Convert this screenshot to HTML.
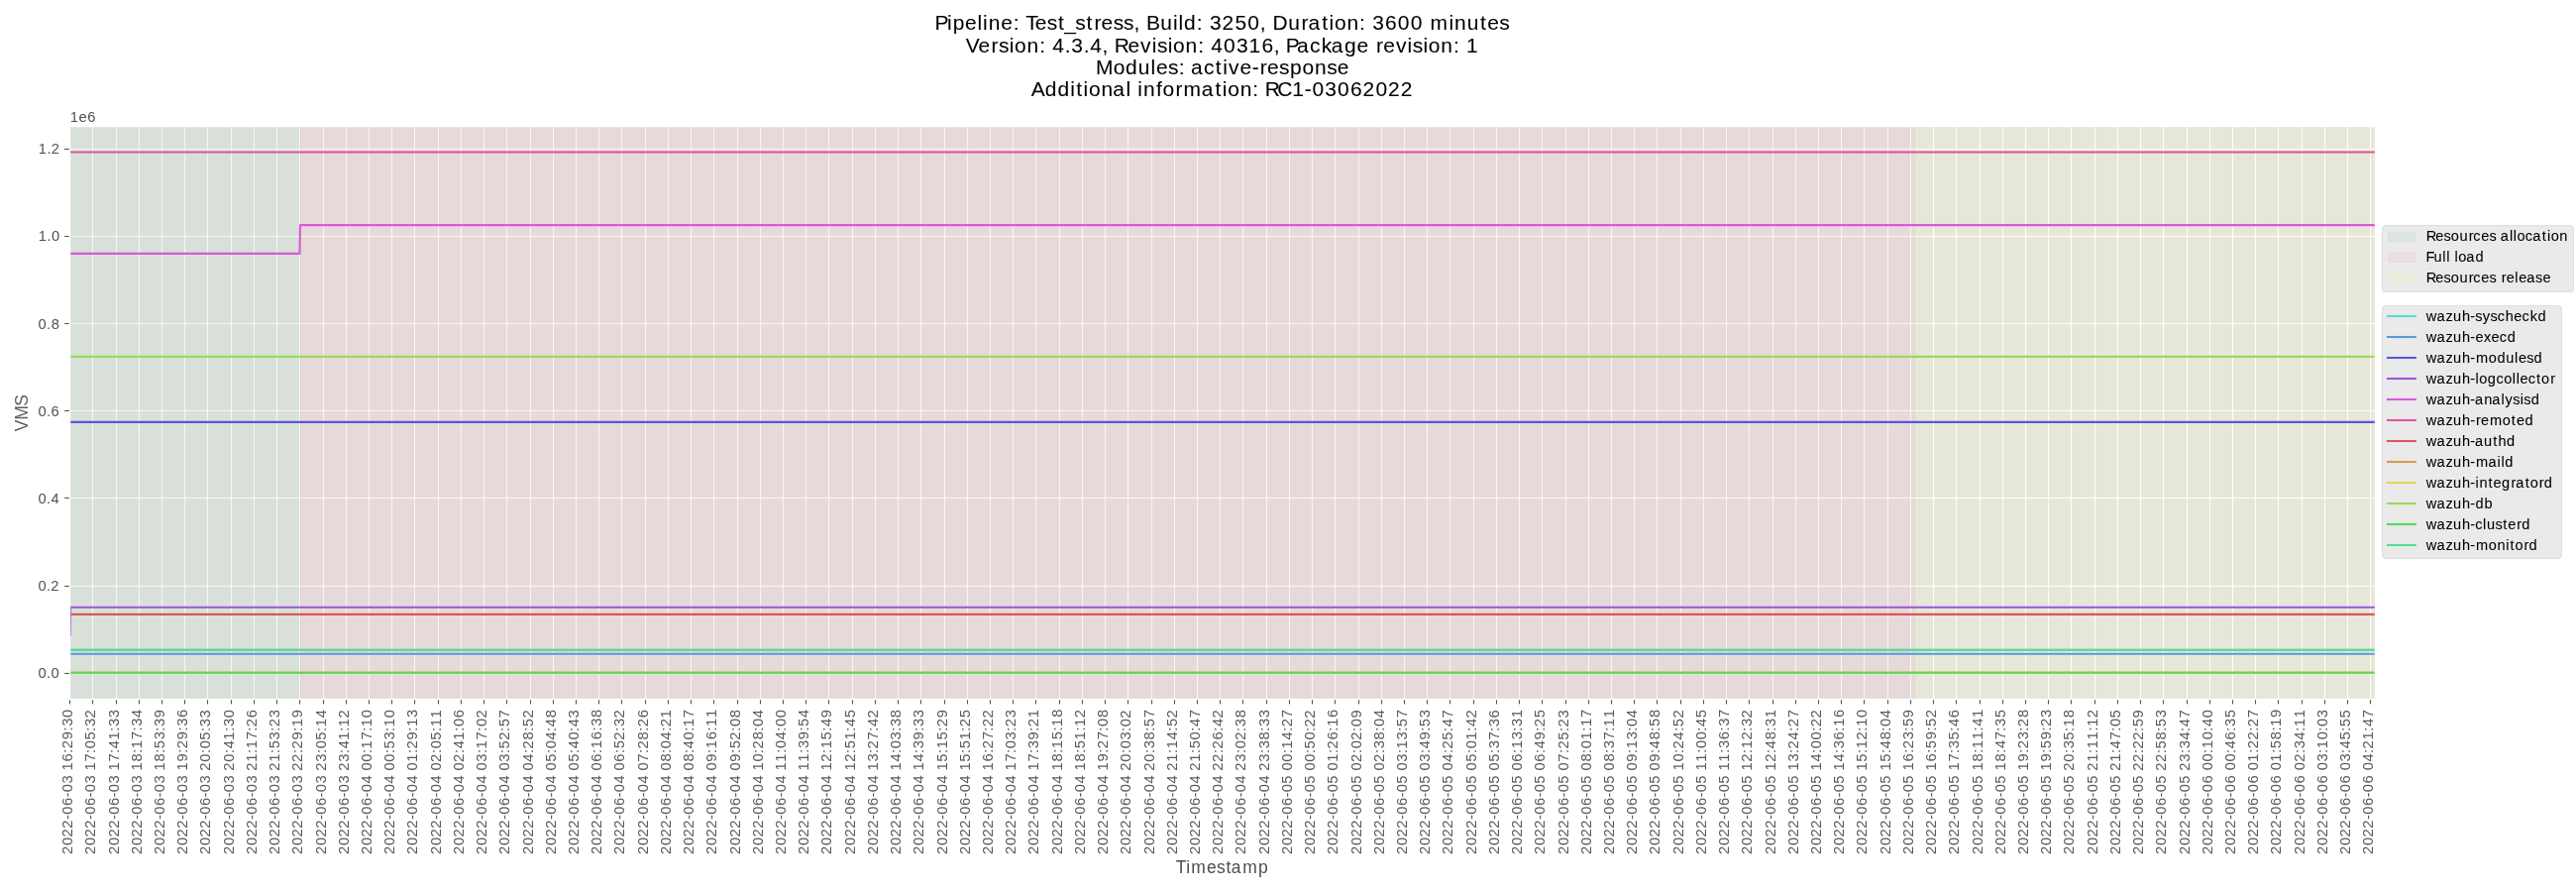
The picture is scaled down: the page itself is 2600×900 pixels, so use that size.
<!DOCTYPE html>
<html><head><meta charset="utf-8"><title>VMS - Test_stress</title>
<style>html,body{margin:0;padding:0;background:#fff;}body{width:2600px;height:900px;overflow:hidden;font-family:"Liberation Sans",sans-serif;}svg{display:block;will-change:transform;}</style>
</head><body>
<svg width="2600" height="900" viewBox="0 0 2600 900"><rect x="0" y="0" width="2600" height="900" fill="#fff"/>
<rect x="70.17" y="127.3" width="2327.03" height="577.71" fill="#e5e5e5"/>
<g fill="#fff"><rect x="69.94" y="127.3" width="1.11" height="577.71"/><rect x="92.94" y="127.3" width="1.11" height="577.71"/><rect x="116.94" y="127.3" width="1.11" height="577.71"/><rect x="139.94" y="127.3" width="1.11" height="577.71"/><rect x="162.94" y="127.3" width="1.11" height="577.71"/><rect x="185.94" y="127.3" width="1.11" height="577.71"/><rect x="208.94" y="127.3" width="1.11" height="577.71"/><rect x="232.94" y="127.3" width="1.11" height="577.71"/><rect x="255.94" y="127.3" width="1.11" height="577.71"/><rect x="278.94" y="127.3" width="1.11" height="577.71"/><rect x="301.94" y="127.3" width="1.11" height="577.71"/><rect x="325.94" y="127.3" width="1.11" height="577.71"/><rect x="348.94" y="127.3" width="1.11" height="577.71"/><rect x="371.94" y="127.3" width="1.11" height="577.71"/><rect x="394.94" y="127.3" width="1.11" height="577.71"/><rect x="417.94" y="127.3" width="1.11" height="577.71"/><rect x="441.94" y="127.3" width="1.11" height="577.71"/><rect x="464.94" y="127.3" width="1.11" height="577.71"/><rect x="487.94" y="127.3" width="1.11" height="577.71"/><rect x="510.94" y="127.3" width="1.11" height="577.71"/><rect x="534.95" y="127.3" width="1.11" height="577.71"/><rect x="557.95" y="127.3" width="1.11" height="577.71"/><rect x="580.95" y="127.3" width="1.11" height="577.71"/><rect x="603.95" y="127.3" width="1.11" height="577.71"/><rect x="626.95" y="127.3" width="1.11" height="577.71"/><rect x="650.95" y="127.3" width="1.11" height="577.71"/><rect x="673.95" y="127.3" width="1.11" height="577.71"/><rect x="696.95" y="127.3" width="1.11" height="577.71"/><rect x="719.95" y="127.3" width="1.11" height="577.71"/><rect x="743.95" y="127.3" width="1.11" height="577.71"/><rect x="766.95" y="127.3" width="1.11" height="577.71"/><rect x="789.95" y="127.3" width="1.11" height="577.71"/><rect x="812.95" y="127.3" width="1.11" height="577.71"/><rect x="835.95" y="127.3" width="1.11" height="577.71"/><rect x="859.95" y="127.3" width="1.11" height="577.71"/><rect x="882.95" y="127.3" width="1.11" height="577.71"/><rect x="905.95" y="127.3" width="1.11" height="577.71"/><rect x="928.95" y="127.3" width="1.11" height="577.71"/><rect x="952.95" y="127.3" width="1.11" height="577.71"/><rect x="975.95" y="127.3" width="1.11" height="577.71"/><rect x="998.95" y="127.3" width="1.11" height="577.71"/><rect x="1021.95" y="127.3" width="1.11" height="577.71"/><rect x="1044.94" y="127.3" width="1.11" height="577.71"/><rect x="1068.94" y="127.3" width="1.11" height="577.71"/><rect x="1091.94" y="127.3" width="1.11" height="577.71"/><rect x="1114.94" y="127.3" width="1.11" height="577.71"/><rect x="1137.94" y="127.3" width="1.11" height="577.71"/><rect x="1161.94" y="127.3" width="1.11" height="577.71"/><rect x="1184.94" y="127.3" width="1.11" height="577.71"/><rect x="1207.94" y="127.3" width="1.11" height="577.71"/><rect x="1230.94" y="127.3" width="1.11" height="577.71"/><rect x="1253.94" y="127.3" width="1.11" height="577.71"/><rect x="1277.94" y="127.3" width="1.11" height="577.71"/><rect x="1300.94" y="127.3" width="1.11" height="577.71"/><rect x="1323.94" y="127.3" width="1.11" height="577.71"/><rect x="1346.94" y="127.3" width="1.11" height="577.71"/><rect x="1370.94" y="127.3" width="1.11" height="577.71"/><rect x="1393.94" y="127.3" width="1.11" height="577.71"/><rect x="1416.94" y="127.3" width="1.11" height="577.71"/><rect x="1439.94" y="127.3" width="1.11" height="577.71"/><rect x="1462.94" y="127.3" width="1.11" height="577.71"/><rect x="1486.94" y="127.3" width="1.11" height="577.71"/><rect x="1509.94" y="127.3" width="1.11" height="577.71"/><rect x="1532.94" y="127.3" width="1.11" height="577.71"/><rect x="1555.94" y="127.3" width="1.11" height="577.71"/><rect x="1579.94" y="127.3" width="1.11" height="577.71"/><rect x="1602.94" y="127.3" width="1.11" height="577.71"/><rect x="1625.94" y="127.3" width="1.11" height="577.71"/><rect x="1648.94" y="127.3" width="1.11" height="577.71"/><rect x="1671.94" y="127.3" width="1.11" height="577.71"/><rect x="1695.94" y="127.3" width="1.11" height="577.71"/><rect x="1718.94" y="127.3" width="1.11" height="577.71"/><rect x="1741.94" y="127.3" width="1.11" height="577.71"/><rect x="1764.94" y="127.3" width="1.11" height="577.71"/><rect x="1788.94" y="127.3" width="1.11" height="577.71"/><rect x="1811.94" y="127.3" width="1.11" height="577.71"/><rect x="1834.94" y="127.3" width="1.11" height="577.71"/><rect x="1857.94" y="127.3" width="1.11" height="577.71"/><rect x="1880.94" y="127.3" width="1.11" height="577.71"/><rect x="1904.94" y="127.3" width="1.11" height="577.71"/><rect x="1927.94" y="127.3" width="1.11" height="577.71"/><rect x="1950.94" y="127.3" width="1.11" height="577.71"/><rect x="1973.94" y="127.3" width="1.11" height="577.71"/><rect x="1997.94" y="127.3" width="1.11" height="577.71"/><rect x="2020.94" y="127.3" width="1.11" height="577.71"/><rect x="2043.94" y="127.3" width="1.11" height="577.71"/><rect x="2066.95" y="127.3" width="1.11" height="577.71"/><rect x="2089.95" y="127.3" width="1.11" height="577.71"/><rect x="2113.95" y="127.3" width="1.11" height="577.71"/><rect x="2136.95" y="127.3" width="1.11" height="577.71"/><rect x="2159.95" y="127.3" width="1.11" height="577.71"/><rect x="2182.95" y="127.3" width="1.11" height="577.71"/><rect x="2206.95" y="127.3" width="1.11" height="577.71"/><rect x="2229.95" y="127.3" width="1.11" height="577.71"/><rect x="2252.95" y="127.3" width="1.11" height="577.71"/><rect x="2275.95" y="127.3" width="1.11" height="577.71"/><rect x="2298.95" y="127.3" width="1.11" height="577.71"/><rect x="2322.95" y="127.3" width="1.11" height="577.71"/><rect x="2345.95" y="127.3" width="1.11" height="577.71"/><rect x="2368.95" y="127.3" width="1.11" height="577.71"/><rect x="2391.95" y="127.3" width="1.11" height="577.71"/><rect x="70.17" y="149.94" width="2327.03" height="1.11"/><rect x="70.17" y="237.94" width="2327.03" height="1.11"/><rect x="70.17" y="325.94" width="2327.03" height="1.11"/><rect x="70.17" y="413.94" width="2327.03" height="1.11"/><rect x="70.17" y="501.94" width="2327.03" height="1.11"/><rect x="70.17" y="590.95" width="2327.03" height="1.11"/><rect x="70.17" y="678.95" width="2327.03" height="1.11"/></g>
<rect x="70.17" y="127.3" width="233.33" height="577.71" fill="#008000" fill-opacity="0.05" stroke="#008000" stroke-opacity="0.05" stroke-width="0.69"/>
<rect x="303.5" y="127.3" width="1629" height="577.71" fill="#ff0000" fill-opacity="0.05" stroke="#ff0000" stroke-opacity="0.05" stroke-width="0.69"/>
<rect x="1932.5" y="127.3" width="464.7" height="577.71" fill="#ffff00" fill-opacity="0.05" stroke="#ffff00" stroke-opacity="0.05" stroke-width="0.69"/>
<defs><clipPath id="ax"><rect x="70.17" y="127.3" width="2327.03" height="577.71"/></clipPath></defs>
<g clip-path="url(#ax)" fill="none" stroke-width="2.08" stroke-linejoin="round"><path d="M68.17 655.9 L2399.2 655.9" stroke="#57dbdb"/><path d="M68.17 659.8 L2399.2 659.8" stroke="#5799db"/><path d="M68.17 425.9 L2399.2 425.9" stroke="#5757db"/><path d="M70.67 641.8 L71.17 612.8 L2399.2 612.8" stroke="#9957db"/><path d="M68.17 255.9 L302.44 255.9 L302.95 227.1 L2399.2 227.1" stroke="#db57db"/><path d="M68.17 153.56 L2399.2 153.56" stroke="#db5799"/><path d="M68.17 619.9 L2399.2 619.9" stroke="#db5757"/><path d="M68.17 678.75 L2399.2 678.75" stroke="#db9957"/><path d="M68.17 678.75 L2399.2 678.75" stroke="#dbdb57"/><path d="M68.17 359.9 L2399.2 359.9" stroke="#99db57"/><path d="M68.17 678.75 L2399.2 678.75" stroke="#57db57"/><path d="M68.17 655.9 L2399.2 655.9" stroke="#57db99"/></g>
<g fill="#555"><rect x="65.14" y="149.94" width="4.86" height="1.11"/><rect x="65.14" y="237.94" width="4.86" height="1.11"/><rect x="65.14" y="325.94" width="4.86" height="1.11"/><rect x="65.14" y="413.94" width="4.86" height="1.11"/><rect x="65.14" y="501.94" width="4.86" height="1.11"/><rect x="65.14" y="590.95" width="4.86" height="1.11"/><rect x="65.14" y="678.95" width="4.86" height="1.11"/><rect x="69.94" y="705.5" width="1.11" height="4.86"/><rect x="92.94" y="705.5" width="1.11" height="4.86"/><rect x="116.94" y="705.5" width="1.11" height="4.86"/><rect x="139.94" y="705.5" width="1.11" height="4.86"/><rect x="162.94" y="705.5" width="1.11" height="4.86"/><rect x="185.94" y="705.5" width="1.11" height="4.86"/><rect x="208.94" y="705.5" width="1.11" height="4.86"/><rect x="232.94" y="705.5" width="1.11" height="4.86"/><rect x="255.94" y="705.5" width="1.11" height="4.86"/><rect x="278.94" y="705.5" width="1.11" height="4.86"/><rect x="301.94" y="705.5" width="1.11" height="4.86"/><rect x="325.94" y="705.5" width="1.11" height="4.86"/><rect x="348.94" y="705.5" width="1.11" height="4.86"/><rect x="371.94" y="705.5" width="1.11" height="4.86"/><rect x="394.94" y="705.5" width="1.11" height="4.86"/><rect x="417.94" y="705.5" width="1.11" height="4.86"/><rect x="441.94" y="705.5" width="1.11" height="4.86"/><rect x="464.94" y="705.5" width="1.11" height="4.86"/><rect x="487.94" y="705.5" width="1.11" height="4.86"/><rect x="510.94" y="705.5" width="1.11" height="4.86"/><rect x="534.95" y="705.5" width="1.11" height="4.86"/><rect x="557.95" y="705.5" width="1.11" height="4.86"/><rect x="580.95" y="705.5" width="1.11" height="4.86"/><rect x="603.95" y="705.5" width="1.11" height="4.86"/><rect x="626.95" y="705.5" width="1.11" height="4.86"/><rect x="650.95" y="705.5" width="1.11" height="4.86"/><rect x="673.95" y="705.5" width="1.11" height="4.86"/><rect x="696.95" y="705.5" width="1.11" height="4.86"/><rect x="719.95" y="705.5" width="1.11" height="4.86"/><rect x="743.95" y="705.5" width="1.11" height="4.86"/><rect x="766.95" y="705.5" width="1.11" height="4.86"/><rect x="789.95" y="705.5" width="1.11" height="4.86"/><rect x="812.95" y="705.5" width="1.11" height="4.86"/><rect x="835.95" y="705.5" width="1.11" height="4.86"/><rect x="859.95" y="705.5" width="1.11" height="4.86"/><rect x="882.95" y="705.5" width="1.11" height="4.86"/><rect x="905.95" y="705.5" width="1.11" height="4.86"/><rect x="928.95" y="705.5" width="1.11" height="4.86"/><rect x="952.95" y="705.5" width="1.11" height="4.86"/><rect x="975.95" y="705.5" width="1.11" height="4.86"/><rect x="998.95" y="705.5" width="1.11" height="4.86"/><rect x="1021.95" y="705.5" width="1.11" height="4.86"/><rect x="1044.94" y="705.5" width="1.11" height="4.86"/><rect x="1068.94" y="705.5" width="1.11" height="4.86"/><rect x="1091.94" y="705.5" width="1.11" height="4.86"/><rect x="1114.94" y="705.5" width="1.11" height="4.86"/><rect x="1137.94" y="705.5" width="1.11" height="4.86"/><rect x="1161.94" y="705.5" width="1.11" height="4.86"/><rect x="1184.94" y="705.5" width="1.11" height="4.86"/><rect x="1207.94" y="705.5" width="1.11" height="4.86"/><rect x="1230.94" y="705.5" width="1.11" height="4.86"/><rect x="1253.94" y="705.5" width="1.11" height="4.86"/><rect x="1277.94" y="705.5" width="1.11" height="4.86"/><rect x="1300.94" y="705.5" width="1.11" height="4.86"/><rect x="1323.94" y="705.5" width="1.11" height="4.86"/><rect x="1346.94" y="705.5" width="1.11" height="4.86"/><rect x="1370.94" y="705.5" width="1.11" height="4.86"/><rect x="1393.94" y="705.5" width="1.11" height="4.86"/><rect x="1416.94" y="705.5" width="1.11" height="4.86"/><rect x="1439.94" y="705.5" width="1.11" height="4.86"/><rect x="1462.94" y="705.5" width="1.11" height="4.86"/><rect x="1486.94" y="705.5" width="1.11" height="4.86"/><rect x="1509.94" y="705.5" width="1.11" height="4.86"/><rect x="1532.94" y="705.5" width="1.11" height="4.86"/><rect x="1555.94" y="705.5" width="1.11" height="4.86"/><rect x="1579.94" y="705.5" width="1.11" height="4.86"/><rect x="1602.94" y="705.5" width="1.11" height="4.86"/><rect x="1625.94" y="705.5" width="1.11" height="4.86"/><rect x="1648.94" y="705.5" width="1.11" height="4.86"/><rect x="1671.94" y="705.5" width="1.11" height="4.86"/><rect x="1695.94" y="705.5" width="1.11" height="4.86"/><rect x="1718.94" y="705.5" width="1.11" height="4.86"/><rect x="1741.94" y="705.5" width="1.11" height="4.86"/><rect x="1764.94" y="705.5" width="1.11" height="4.86"/><rect x="1788.94" y="705.5" width="1.11" height="4.86"/><rect x="1811.94" y="705.5" width="1.11" height="4.86"/><rect x="1834.94" y="705.5" width="1.11" height="4.86"/><rect x="1857.94" y="705.5" width="1.11" height="4.86"/><rect x="1880.94" y="705.5" width="1.11" height="4.86"/><rect x="1904.94" y="705.5" width="1.11" height="4.86"/><rect x="1927.94" y="705.5" width="1.11" height="4.86"/><rect x="1950.94" y="705.5" width="1.11" height="4.86"/><rect x="1973.94" y="705.5" width="1.11" height="4.86"/><rect x="1997.94" y="705.5" width="1.11" height="4.86"/><rect x="2020.94" y="705.5" width="1.11" height="4.86"/><rect x="2043.94" y="705.5" width="1.11" height="4.86"/><rect x="2066.95" y="705.5" width="1.11" height="4.86"/><rect x="2089.95" y="705.5" width="1.11" height="4.86"/><rect x="2113.95" y="705.5" width="1.11" height="4.86"/><rect x="2136.95" y="705.5" width="1.11" height="4.86"/><rect x="2159.95" y="705.5" width="1.11" height="4.86"/><rect x="2182.95" y="705.5" width="1.11" height="4.86"/><rect x="2206.95" y="705.5" width="1.11" height="4.86"/><rect x="2229.95" y="705.5" width="1.11" height="4.86"/><rect x="2252.95" y="705.5" width="1.11" height="4.86"/><rect x="2275.95" y="705.5" width="1.11" height="4.86"/><rect x="2298.95" y="705.5" width="1.11" height="4.86"/><rect x="2322.95" y="705.5" width="1.11" height="4.86"/><rect x="2345.95" y="705.5" width="1.11" height="4.86"/><rect x="2368.95" y="705.5" width="1.11" height="4.86"/><rect x="2391.95" y="705.5" width="1.11" height="4.86"/></g>
<g fill="#fff">
<rect x="69.81" y="126.81" width="1.39" height="579.39"/>
<rect x="2396.81" y="126.81" width="1.39" height="579.39"/>
<rect x="69.81" y="126.81" width="2328.39" height="1.39"/>
<rect x="69.81" y="704.81" width="2328.39" height="1.39"/>
</g>
<rect x="2404.5" y="227.5" width="193" height="67" rx="2.78" ry="2.78" fill="#e5e5e5" fill-opacity="0.8" stroke="#ccc" stroke-opacity="0.8" stroke-width="0.69"/>
<rect x="2410.5" y="234.5" width="27.8" height="9" fill="#008000" fill-opacity="0.05" stroke="#008000" stroke-opacity="0.05" stroke-width="0.69"/>
<rect x="2410.5" y="254.5" width="27.8" height="10" fill="#ff0000" fill-opacity="0.05" stroke="#ff0000" stroke-opacity="0.05" stroke-width="0.69"/>
<rect x="2410.5" y="275.5" width="27.8" height="10" fill="#ffff00" fill-opacity="0.05" stroke="#ffff00" stroke-opacity="0.05" stroke-width="0.69"/>
<rect x="2404.5" y="308.5" width="181" height="255" rx="2.78" ry="2.78" fill="#e5e5e5" fill-opacity="0.8" stroke="#ccc" stroke-opacity="0.8" stroke-width="0.69"/>
<g fill="none" stroke-width="2.08" stroke-linecap="square"><path d="M2410 319 H2437.8" stroke="#57dbdb"/><path d="M2410 340 H2437.8" stroke="#5799db"/><path d="M2410 361 H2437.8" stroke="#5757db"/><path d="M2410 382 H2437.8" stroke="#9957db"/><path d="M2410 403 H2437.8" stroke="#db57db"/><path d="M2410 424 H2437.8" stroke="#db5799"/><path d="M2410 445 H2437.8" stroke="#db5757"/><path d="M2410 466 H2437.8" stroke="#db9957"/><path d="M2410 487 H2437.8" stroke="#dbdb57"/><path d="M2410 508 H2437.8" stroke="#99db57"/><path d="M2410 529 H2437.8" stroke="#57db57"/><path d="M2410 550 H2437.8" stroke="#57db99"/></g>
<g font-family="'Liberation Sans', sans-serif" fill="#000"><text x="0.09 9.03 17.59 26.34 34.99 40.16 48.98 57.49 62.66 71.45 79.88 84.52 93.48 102.27 106.72 115.66 124.52 129.2 137.91" y="0" font-size="14.72" transform="translate(73 862) rotate(-90)" fill="#5a5a5a">2022-06-03 16:29:30</text><text x="0.09 9.03 17.59 26.34 34.99 40.16 48.98 57.49 62.66 71.45 79.88 84.52 93.4 102.14 106.78 115.48 124.27 128.95 137.47" y="0" font-size="14.72" transform="translate(96 862) rotate(-90)" fill="#5a5a5a">2022-06-03 17:05:32</text><text x="0.09 9.03 17.59 26.34 34.99 40.16 48.98 57.49 62.66 71.45 79.88 84.52 93.4 102.14 106.83 115.52 124.39 129.07 137.82" y="0" font-size="14.72" transform="translate(120 862) rotate(-90)" fill="#5a5a5a">2022-06-03 17:41:33</text><text x="0.09 9.03 17.59 26.34 34.99 40.16 48.98 57.49 62.66 71.45 79.88 84.52 93.53 102.27 106.89 115.77 124.52 129.2 137.95" y="0" font-size="14.72" transform="translate(143 862) rotate(-90)" fill="#5a5a5a">2022-06-03 18:17:34</text><text x="0.09 9.03 17.59 26.34 34.99 40.16 48.98 57.49 62.66 71.45 79.88 84.52 93.53 102.27 106.86 115.7 124.39 129.07 137.78" y="0" font-size="14.72" transform="translate(166 862) rotate(-90)" fill="#5a5a5a">2022-06-03 18:53:39</text><text x="0.09 9.03 17.59 26.34 34.99 40.16 48.98 57.49 62.66 71.45 79.88 84.52 93.41 102.27 106.72 115.66 124.52 129.2 137.98" y="0" font-size="14.72" transform="translate(189 862) rotate(-90)" fill="#5a5a5a">2022-06-03 19:29:36</text><text x="0.09 9.03 17.59 26.34 34.99 40.16 48.98 57.49 62.66 71.45 79.88 84.34 93.28 102.02 106.66 115.36 124.14 128.82 137.57" y="0" font-size="14.72" transform="translate(212 862) rotate(-90)" fill="#5a5a5a">2022-06-03 20:05:33</text><text x="0.09 9.03 17.59 26.34 34.99 40.16 48.98 57.49 62.66 71.45 79.88 84.34 93.28 102.02 106.7 115.39 124.27 128.95 137.66" y="0" font-size="14.72" transform="translate(236 862) rotate(-90)" fill="#5a5a5a">2022-06-03 20:41:30</text><text x="0.09 9.03 17.59 26.34 34.99 40.16 48.98 57.49 62.66 71.45 79.88 84.34 93.27 102.14 106.77 115.65 124.39 128.84 137.86" y="0" font-size="14.72" transform="translate(259 862) rotate(-90)" fill="#5a5a5a">2022-06-03 21:17:26</text><text x="0.09 9.03 17.59 26.34 34.99 40.16 48.98 57.49 62.66 71.45 79.88 84.34 93.27 102.14 106.73 115.57 124.27 128.72 137.7" y="0" font-size="14.72" transform="translate(282 862) rotate(-90)" fill="#5a5a5a">2022-06-03 21:53:23</text><text x="0.09 9.03 17.59 26.34 34.99 40.16 48.98 57.49 62.66 71.45 79.88 84.34 93.09 102.02 106.47 115.41 124.27 128.89 137.78" y="0" font-size="14.72" transform="translate(305 862) rotate(-90)" fill="#5a5a5a">2022-06-03 22:29:19</text><text x="0.09 9.03 17.59 26.34 34.99 40.16 48.98 57.49 62.66 71.45 79.88 84.34 93.32 102.02 106.66 115.36 124.14 128.77 137.7" y="0" font-size="14.72" transform="translate(329 862) rotate(-90)" fill="#5a5a5a">2022-06-03 23:05:14</text><text x="0.09 9.03 17.59 26.34 34.99 40.16 48.98 57.49 62.66 71.45 79.88 84.34 93.32 102.02 106.7 115.39 124.27 128.89 137.59" y="0" font-size="14.72" transform="translate(352 862) rotate(-90)" fill="#5a5a5a">2022-06-03 23:41:12</text><text x="0.09 9.03 17.59 26.34 34.99 40.16 48.98 57.49 62.66 71.45 79.88 84.53 93.28 102.02 106.64 115.52 124.27 128.89 137.78" y="0" font-size="14.72" transform="translate(375 862) rotate(-90)" fill="#5a5a5a">2022-06-04 00:17:10</text><text x="0.09 9.03 17.59 26.34 34.99 40.16 48.98 57.49 62.66 71.45 79.88 84.53 93.28 102.02 106.61 115.45 124.14 128.77 137.66" y="0" font-size="14.72" transform="translate(398 862) rotate(-90)" fill="#5a5a5a">2022-06-04 00:53:10</text><text x="0.09 9.03 17.59 26.34 34.99 40.16 48.98 57.49 62.66 71.45 79.88 84.53 93.27 102.14 106.59 115.53 124.39 129.02 137.95" y="0" font-size="14.72" transform="translate(421 862) rotate(-90)" fill="#5a5a5a">2022-06-04 01:29:13</text><text x="0.09 9.03 17.59 26.34 34.99 40.16 48.98 57.49 62.66 71.45 79.88 84.53 93.09 102.02 106.66 115.36 124.14 128.77 137.64" y="0" font-size="14.72" transform="translate(445 862) rotate(-90)" fill="#5a5a5a">2022-06-04 02:05:11</text><text x="0.09 9.03 17.59 26.34 34.99 40.16 48.98 57.49 62.66 71.45 79.88 84.53 93.09 102.02 106.7 115.39 124.27 128.91 137.73" y="0" font-size="14.72" transform="translate(468 862) rotate(-90)" fill="#5a5a5a">2022-06-04 02:41:06</text><text x="0.09 9.03 17.59 26.34 34.99 40.16 48.98 57.49 62.66 71.45 79.88 84.53 93.32 102.02 106.64 115.52 124.27 128.91 137.47" y="0" font-size="14.72" transform="translate(491 862) rotate(-90)" fill="#5a5a5a">2022-06-04 03:17:02</text><text x="0.09 9.03 17.59 26.34 34.99 40.16 48.98 57.49 62.66 71.45 79.88 84.53 93.32 102.02 106.61 115.22 124.14 128.73 137.52" y="0" font-size="14.72" transform="translate(514 862) rotate(-90)" fill="#5a5a5a">2022-06-04 03:52:57</text><text x="0.09 9.03 17.59 26.34 34.99 40.16 48.98 57.49 62.66 71.45 79.88 84.53 93.33 102.02 106.47 115.53 124.27 128.86 137.47" y="0" font-size="14.72" transform="translate(538 862) rotate(-90)" fill="#5a5a5a">2022-06-04 04:28:52</text><text x="0.09 9.03 17.59 26.34 34.99 40.16 48.98 57.49 62.66 71.45 79.88 84.53 93.23 102.02 106.66 115.45 124.14 128.83 137.66" y="0" font-size="14.72" transform="translate(561 862) rotate(-90)" fill="#5a5a5a">2022-06-04 05:04:48</text><text x="0.09 9.03 17.59 26.34 34.99 40.16 48.98 57.49 62.66 71.45 79.88 84.53 93.23 102.02 106.7 115.41 124.14 128.83 137.57" y="0" font-size="14.72" transform="translate(584 862) rotate(-90)" fill="#5a5a5a">2022-06-04 05:40:43</text><text x="0.09 9.03 17.59 26.34 34.99 40.16 48.98 57.49 62.66 71.45 79.88 84.53 93.36 102.14 106.77 115.73 124.52 129.2 138.03" y="0" font-size="14.72" transform="translate(607 862) rotate(-90)" fill="#5a5a5a">2022-06-04 06:16:38</text><text x="0.09 9.03 17.59 26.34 34.99 40.16 48.98 57.49 62.66 71.45 79.88 84.53 93.36 102.14 106.73 115.34 124.27 128.95 137.47" y="0" font-size="14.72" transform="translate(630 862) rotate(-90)" fill="#5a5a5a">2022-06-04 06:52:32</text><text x="0.09 9.03 17.59 26.34 34.99 40.16 48.98 57.49 62.66 71.45 79.88 84.53 93.27 102.02 106.47 115.53 124.27 128.72 137.73" y="0" font-size="14.72" transform="translate(654 862) rotate(-90)" fill="#5a5a5a">2022-06-04 07:28:26</text><text x="0.09 9.03 17.59 26.34 34.99 40.16 48.98 57.49 62.66 71.45 79.88 84.53 93.41 102.14 106.78 115.58 124.27 128.72 137.64" y="0" font-size="14.72" transform="translate(677 862) rotate(-90)" fill="#5a5a5a">2022-06-04 08:04:21</text><text x="0.09 9.03 17.59 26.34 34.99 40.16 48.98 57.49 62.66 71.45 79.88 84.53 93.41 102.14 106.83 115.53 124.27 128.89 137.77" y="0" font-size="14.72" transform="translate(700 862) rotate(-90)" fill="#5a5a5a">2022-06-04 08:40:17</text><text x="0.09 9.03 17.59 26.34 34.99 40.16 48.98 57.49 62.66 71.45 79.88 84.53 93.28 102.14 106.77 115.73 124.52 129.14 138.02" y="0" font-size="14.72" transform="translate(723 862) rotate(-90)" fill="#5a5a5a">2022-06-04 09:16:11</text><text x="0.09 9.03 17.59 26.34 34.99 40.16 48.98 57.49 62.66 71.45 79.88 84.53 93.28 102.14 106.73 115.34 124.27 128.91 137.78" y="0" font-size="14.72" transform="translate(747 862) rotate(-90)" fill="#5a5a5a">2022-06-04 09:52:08</text><text x="0.09 9.03 17.59 26.34 34.99 40.16 48.98 57.49 62.66 71.45 79.88 84.52 93.41 102.14 106.59 115.66 124.39 129.03 137.83" y="0" font-size="14.72" transform="translate(770 862) rotate(-90)" fill="#5a5a5a">2022-06-04 10:28:04</text><text x="0.09 9.03 17.59 26.34 34.99 40.16 48.98 57.49 62.66 71.45 79.88 84.52 93.39 102.27 106.91 115.7 124.39 129.03 137.78" y="0" font-size="14.72" transform="translate(793 862) rotate(-90)" fill="#5a5a5a">2022-06-04 11:04:00</text><text x="0.09 9.03 17.59 26.34 34.99 40.16 48.98 57.49 62.66 71.45 79.88 84.52 93.39 102.27 106.95 115.66 124.52 129.11 137.95" y="0" font-size="14.72" transform="translate(816 862) rotate(-90)" fill="#5a5a5a">2022-06-04 11:39:54</text><text x="0.09 9.03 17.59 26.34 34.99 40.16 48.98 57.49 62.66 71.45 79.88 84.52 93.22 102.14 106.77 115.61 124.39 129.08 137.78" y="0" font-size="14.72" transform="translate(839 862) rotate(-90)" fill="#5a5a5a">2022-06-04 12:15:49</text><text x="0.09 9.03 17.59 26.34 34.99 40.16 48.98 57.49 62.66 71.45 79.88 84.52 93.22 102.14 106.73 115.52 124.39 129.08 137.73" y="0" font-size="14.72" transform="translate(863 862) rotate(-90)" fill="#5a5a5a">2022-06-04 12:51:45</text><text x="0.09 9.03 17.59 26.34 34.99 40.16 48.98 57.49 62.66 71.45 79.88 84.52 93.45 102.14 106.59 115.52 124.27 128.95 137.47" y="0" font-size="14.72" transform="translate(886 862) rotate(-90)" fill="#5a5a5a">2022-06-04 13:27:42</text><text x="0.09 9.03 17.59 26.34 34.99 40.16 48.98 57.49 62.66 71.45 79.88 84.52 93.45 102.14 106.78 115.57 124.27 128.95 137.78" y="0" font-size="14.72" transform="translate(909 862) rotate(-90)" fill="#5a5a5a">2022-06-04 14:03:38</text><text x="0.09 9.03 17.59 26.34 34.99 40.16 48.98 57.49 62.66 71.45 79.88 84.52 93.45 102.14 106.82 115.53 124.39 129.07 137.82" y="0" font-size="14.72" transform="translate(932 862) rotate(-90)" fill="#5a5a5a">2022-06-04 14:39:33</text><text x="0.09 9.03 17.59 26.34 34.99 40.16 48.98 57.49 62.66 71.45 79.88 84.52 93.36 102.14 106.77 115.61 124.39 128.84 137.78" y="0" font-size="14.72" transform="translate(956 862) rotate(-90)" fill="#5a5a5a">2022-06-04 15:15:29</text><text x="0.09 9.03 17.59 26.34 34.99 40.16 48.98 57.49 62.66 71.45 79.88 84.52 93.36 102.14 106.73 115.52 124.39 128.84 137.73" y="0" font-size="14.72" transform="translate(979 862) rotate(-90)" fill="#5a5a5a">2022-06-04 15:51:25</text><text x="0.09 9.03 17.59 26.34 34.99 40.16 48.98 57.49 62.66 71.45 79.88 84.52 93.48 102.27 106.72 115.65 124.39 128.84 137.59" y="0" font-size="14.72" transform="translate(1002 862) rotate(-90)" fill="#5a5a5a">2022-06-04 16:27:22</text><text x="0.09 9.03 17.59 26.34 34.99 40.16 48.98 57.49 62.66 71.45 79.88 84.52 93.4 102.14 106.78 115.57 124.27 128.72 137.7" y="0" font-size="14.72" transform="translate(1025 862) rotate(-90)" fill="#5a5a5a">2022-06-04 17:03:23</text><text x="0.09 9.03 17.59 26.34 34.99 40.16 48.98 57.49 62.66 71.45 79.88 84.52 93.4 102.14 106.82 115.53 124.39 128.84 137.77" y="0" font-size="14.72" transform="translate(1048 862) rotate(-90)" fill="#5a5a5a">2022-06-04 17:39:21</text><text x="0.09 9.03 17.59 26.34 34.99 40.16 48.98 57.49 62.66 71.45 79.88 84.52 93.53 102.27 106.89 115.73 124.52 129.14 138.16" y="0" font-size="14.72" transform="translate(1072 862) rotate(-90)" fill="#5a5a5a">2022-06-04 18:15:18</text><text x="0.09 9.03 17.59 26.34 34.99 40.16 48.98 57.49 62.66 71.45 79.88 84.52 93.53 102.27 106.86 115.64 124.52 129.14 137.84" y="0" font-size="14.72" transform="translate(1095 862) rotate(-90)" fill="#5a5a5a">2022-06-04 18:51:12</text><text x="0.09 9.03 17.59 26.34 34.99 40.16 48.98 57.49 62.66 71.45 79.88 84.52 93.41 102.27 106.72 115.65 124.39 129.03 137.91" y="0" font-size="14.72" transform="translate(1118 862) rotate(-90)" fill="#5a5a5a">2022-06-04 19:27:08</text><text x="0.09 9.03 17.59 26.34 34.99 40.16 48.98 57.49 62.66 71.45 79.88 84.34 93.28 102.02 106.66 115.45 124.14 128.78 137.34" y="0" font-size="14.72" transform="translate(1141 862) rotate(-90)" fill="#5a5a5a">2022-06-04 20:03:02</text><text x="0.09 9.03 17.59 26.34 34.99 40.16 48.98 57.49 62.66 71.45 79.88 84.34 93.28 102.02 106.7 115.53 124.27 128.86 137.65" y="0" font-size="14.72" transform="translate(1165 862) rotate(-90)" fill="#5a5a5a">2022-06-04 20:38:57</text><text x="0.09 9.03 17.59 26.34 34.99 40.16 48.98 57.49 62.66 71.45 79.88 84.34 93.27 102.14 106.77 115.7 124.39 128.98 137.59" y="0" font-size="14.72" transform="translate(1188 862) rotate(-90)" fill="#5a5a5a">2022-06-04 21:14:52</text><text x="0.09 9.03 17.59 26.34 34.99 40.16 48.98 57.49 62.66 71.45 79.88 84.34 93.27 102.14 106.73 115.53 124.27 128.95 137.65" y="0" font-size="14.72" transform="translate(1211 862) rotate(-90)" fill="#5a5a5a">2022-06-04 21:50:47</text><text x="0.09 9.03 17.59 26.34 34.99 40.16 48.98 57.49 62.66 71.45 79.88 84.34 93.09 102.02 106.47 115.48 124.27 128.95 137.47" y="0" font-size="14.72" transform="translate(1234 862) rotate(-90)" fill="#5a5a5a">2022-06-04 22:26:42</text><text x="0.09 9.03 17.59 26.34 34.99 40.16 48.98 57.49 62.66 71.45 79.88 84.34 93.32 102.02 106.66 115.22 124.14 128.82 137.66" y="0" font-size="14.72" transform="translate(1257 862) rotate(-90)" fill="#5a5a5a">2022-06-04 23:02:38</text><text x="0.09 9.03 17.59 26.34 34.99 40.16 48.98 57.49 62.66 71.45 79.88 84.34 93.32 102.02 106.7 115.53 124.27 128.95 137.7" y="0" font-size="14.72" transform="translate(1281 862) rotate(-90)" fill="#5a5a5a">2022-06-04 23:38:33</text><text x="0.09 9.03 17.59 26.34 34.99 40.16 48.98 57.49 62.66 71.36 79.88 84.53 93.28 102.02 106.64 115.58 124.27 128.72 137.65" y="0" font-size="14.72" transform="translate(1304 862) rotate(-90)" fill="#5a5a5a">2022-06-05 00:14:27</text><text x="0.09 9.03 17.59 26.34 34.99 40.16 48.98 57.49 62.66 71.36 79.88 84.53 93.28 102.02 106.61 115.41 124.14 128.59 137.34" y="0" font-size="14.72" transform="translate(1327 862) rotate(-90)" fill="#5a5a5a">2022-06-05 00:50:22</text><text x="0.09 9.03 17.59 26.34 34.99 40.16 48.98 57.49 62.66 71.36 79.88 84.53 93.27 102.14 106.59 115.61 124.39 129.02 137.98" y="0" font-size="14.72" transform="translate(1350 862) rotate(-90)" fill="#5a5a5a">2022-06-05 01:26:16</text><text x="0.09 9.03 17.59 26.34 34.99 40.16 48.98 57.49 62.66 71.36 79.88 84.53 93.09 102.02 106.66 115.22 124.14 128.78 137.53" y="0" font-size="14.72" transform="translate(1374 862) rotate(-90)" fill="#5a5a5a">2022-06-05 02:02:09</text><text x="0.09 9.03 17.59 26.34 34.99 40.16 48.98 57.49 62.66 71.36 79.88 84.53 93.09 102.02 106.7 115.53 124.27 128.91 137.7" y="0" font-size="14.72" transform="translate(1397 862) rotate(-90)" fill="#5a5a5a">2022-06-05 02:38:04</text><text x="0.09 9.03 17.59 26.34 34.99 40.16 48.98 57.49 62.66 71.36 79.88 84.53 93.32 102.02 106.64 115.57 124.27 128.86 137.65" y="0" font-size="14.72" transform="translate(1420 862) rotate(-90)" fill="#5a5a5a">2022-06-05 03:13:57</text><text x="0.09 9.03 17.59 26.34 34.99 40.16 48.98 57.49 62.66 71.36 79.88 84.53 93.32 102.02 106.7 115.41 124.27 128.86 137.7" y="0" font-size="14.72" transform="translate(1443 862) rotate(-90)" fill="#5a5a5a">2022-06-05 03:49:53</text><text x="0.09 9.03 17.59 26.34 34.99 40.16 48.98 57.49 62.66 71.36 79.88 84.53 93.33 102.02 106.47 115.36 124.14 128.83 137.52" y="0" font-size="14.72" transform="translate(1466 862) rotate(-90)" fill="#5a5a5a">2022-06-05 04:25:47</text><text x="0.09 9.03 17.59 26.34 34.99 40.16 48.98 57.49 62.66 71.36 79.88 84.53 93.23 102.02 106.66 115.39 124.27 128.95 137.47" y="0" font-size="14.72" transform="translate(1490 862) rotate(-90)" fill="#5a5a5a">2022-06-05 05:01:42</text><text x="0.09 9.03 17.59 26.34 34.99 40.16 48.98 57.49 62.66 71.36 79.88 84.53 93.23 102.02 106.7 115.4 124.14 128.82 137.61" y="0" font-size="14.72" transform="translate(1513 862) rotate(-90)" fill="#5a5a5a">2022-06-05 05:37:36</text><text x="0.09 9.03 17.59 26.34 34.99 40.16 48.98 57.49 62.66 71.36 79.88 84.53 93.36 102.14 106.77 115.7 124.39 129.07 137.77" y="0" font-size="14.72" transform="translate(1536 862) rotate(-90)" fill="#5a5a5a">2022-06-05 06:13:31</text><text x="0.09 9.03 17.59 26.34 34.99 40.16 48.98 57.49 62.66 71.36 79.88 84.53 93.36 102.14 106.83 115.53 124.39 128.84 137.73" y="0" font-size="14.72" transform="translate(1559 862) rotate(-90)" fill="#5a5a5a">2022-06-05 06:49:25</text><text x="0.09 9.03 17.59 26.34 34.99 40.16 48.98 57.49 62.66 71.36 79.88 84.53 93.27 102.02 106.47 115.36 124.14 128.59 137.57" y="0" font-size="14.72" transform="translate(1583 862) rotate(-90)" fill="#5a5a5a">2022-06-05 07:25:23</text><text x="0.09 9.03 17.59 26.34 34.99 40.16 48.98 57.49 62.66 71.36 79.88 84.53 93.41 102.14 106.78 115.52 124.39 129.02 137.9" y="0" font-size="14.72" transform="translate(1606 862) rotate(-90)" fill="#5a5a5a">2022-06-05 08:01:17</text><text x="0.09 9.03 17.59 26.34 34.99 40.16 48.98 57.49 62.66 71.36 79.88 84.53 93.41 102.14 106.82 115.52 124.27 128.89 137.77" y="0" font-size="14.72" transform="translate(1629 862) rotate(-90)" fill="#5a5a5a">2022-06-05 08:37:11</text><text x="0.09 9.03 17.59 26.34 34.99 40.16 48.98 57.49 62.66 71.36 79.88 84.53 93.28 102.14 106.77 115.7 124.39 129.03 137.83" y="0" font-size="14.72" transform="translate(1652 862) rotate(-90)" fill="#5a5a5a">2022-06-05 09:13:04</text><text x="0.09 9.03 17.59 26.34 34.99 40.16 48.98 57.49 62.66 71.36 79.88 84.53 93.28 102.14 106.83 115.66 124.39 128.98 137.91" y="0" font-size="14.72" transform="translate(1675 862) rotate(-90)" fill="#5a5a5a">2022-06-05 09:48:58</text><text x="0.09 9.03 17.59 26.34 34.99 40.16 48.98 57.49 62.66 71.36 79.88 84.52 93.41 102.14 106.59 115.58 124.27 128.86 137.47" y="0" font-size="14.72" transform="translate(1699 862) rotate(-90)" fill="#5a5a5a">2022-06-05 10:24:52</text><text x="0.09 9.03 17.59 26.34 34.99 40.16 48.98 57.49 62.66 71.36 79.88 84.52 93.39 102.27 106.91 115.66 124.39 129.08 137.73" y="0" font-size="14.72" transform="translate(1722 862) rotate(-90)" fill="#5a5a5a">2022-06-05 11:00:45</text><text x="0.09 9.03 17.59 26.34 34.99 40.16 48.98 57.49 62.66 71.36 79.88 84.52 93.39 102.27 106.95 115.73 124.52 129.2 137.9" y="0" font-size="14.72" transform="translate(1745 862) rotate(-90)" fill="#5a5a5a">2022-06-05 11:36:37</text><text x="0.09 9.03 17.59 26.34 34.99 40.16 48.98 57.49 62.66 71.36 79.88 84.52 93.22 102.14 106.77 115.47 124.39 129.07 137.59" y="0" font-size="14.72" transform="translate(1768 862) rotate(-90)" fill="#5a5a5a">2022-06-05 12:12:32</text><text x="0.09 9.03 17.59 26.34 34.99 40.16 48.98 57.49 62.66 71.36 79.88 84.52 93.22 102.14 106.83 115.66 124.39 129.07 137.77" y="0" font-size="14.72" transform="translate(1792 862) rotate(-90)" fill="#5a5a5a">2022-06-05 12:48:31</text><text x="0.09 9.03 17.59 26.34 34.99 40.16 48.98 57.49 62.66 71.36 79.88 84.52 93.45 102.14 106.59 115.58 124.27 128.72 137.65" y="0" font-size="14.72" transform="translate(1815 862) rotate(-90)" fill="#5a5a5a">2022-06-05 13:24:27</text><text x="0.09 9.03 17.59 26.34 34.99 40.16 48.98 57.49 62.66 71.36 79.88 84.52 93.45 102.14 106.78 115.53 124.27 128.72 137.47" y="0" font-size="14.72" transform="translate(1838 862) rotate(-90)" fill="#5a5a5a">2022-06-05 14:00:22</text><text x="0.09 9.03 17.59 26.34 34.99 40.16 48.98 57.49 62.66 71.36 79.88 84.52 93.45 102.14 106.82 115.61 124.39 129.02 137.98" y="0" font-size="14.72" transform="translate(1861 862) rotate(-90)" fill="#5a5a5a">2022-06-05 14:36:16</text><text x="0.09 9.03 17.59 26.34 34.99 40.16 48.98 57.49 62.66 71.36 79.88 84.52 93.36 102.14 106.77 115.47 124.39 129.02 137.91" y="0" font-size="14.72" transform="translate(1884 862) rotate(-90)" fill="#5a5a5a">2022-06-05 15:12:10</text><text x="0.09 9.03 17.59 26.34 34.99 40.16 48.98 57.49 62.66 71.36 79.88 84.52 93.36 102.14 106.83 115.66 124.39 129.03 137.83" y="0" font-size="14.72" transform="translate(1908 862) rotate(-90)" fill="#5a5a5a">2022-06-05 15:48:04</text><text x="0.09 9.03 17.59 26.34 34.99 40.16 48.98 57.49 62.66 71.36 79.88 84.52 93.48 102.27 106.72 115.7 124.39 128.98 137.78" y="0" font-size="14.72" transform="translate(1931 862) rotate(-90)" fill="#5a5a5a">2022-06-05 16:23:59</text><text x="0.09 9.03 17.59 26.34 34.99 40.16 48.98 57.49 62.66 71.36 79.88 84.52 93.48 102.27 106.86 115.66 124.52 129.11 137.72" y="0" font-size="14.72" transform="translate(1954 862) rotate(-90)" fill="#5a5a5a">2022-06-05 16:59:52</text><text x="0.09 9.03 17.59 26.34 34.99 40.16 48.98 57.49 62.66 71.36 79.88 84.52 93.4 102.14 106.82 115.48 124.27 128.95 137.73" y="0" font-size="14.72" transform="translate(1977 862) rotate(-90)" fill="#5a5a5a">2022-06-05 17:35:46</text><text x="0.09 9.03 17.59 26.34 34.99 40.16 48.98 57.49 62.66 71.36 79.88 84.52 93.53 102.27 106.89 115.77 124.64 129.33 138.02" y="0" font-size="14.72" transform="translate(2001 862) rotate(-90)" fill="#5a5a5a">2022-06-05 18:11:41</text><text x="0.09 9.03 17.59 26.34 34.99 40.16 48.98 57.49 62.66 71.36 79.88 84.52 93.53 102.27 106.95 115.65 124.39 129.07 137.73" y="0" font-size="14.72" transform="translate(2024 862) rotate(-90)" fill="#5a5a5a">2022-06-05 18:47:35</text><text x="0.09 9.03 17.59 26.34 34.99 40.16 48.98 57.49 62.66 71.36 79.88 84.52 93.41 102.27 106.72 115.7 124.39 128.84 137.91" y="0" font-size="14.72" transform="translate(2047 862) rotate(-90)" fill="#5a5a5a">2022-06-05 19:23:28</text><text x="0.09 9.03 17.59 26.34 34.99 40.16 48.98 57.49 62.66 71.36 79.88 84.52 93.41 102.27 106.86 115.66 124.52 128.97 137.95" y="0" font-size="14.72" transform="translate(2070 862) rotate(-90)" fill="#5a5a5a">2022-06-05 19:59:23</text><text x="0.09 9.03 17.59 26.34 34.99 40.16 48.98 57.49 62.66 71.36 79.88 84.34 93.28 102.02 106.7 115.36 124.14 128.77 137.78" y="0" font-size="14.72" transform="translate(2093 862) rotate(-90)" fill="#5a5a5a">2022-06-05 20:35:18</text><text x="0.09 9.03 17.59 26.34 34.99 40.16 48.98 57.49 62.66 71.36 79.88 84.34 93.27 102.14 106.77 115.64 124.52 129.14 137.84" y="0" font-size="14.72" transform="translate(2117 862) rotate(-90)" fill="#5a5a5a">2022-06-05 21:11:12</text><text x="0.09 9.03 17.59 26.34 34.99 40.16 48.98 57.49 62.66 71.36 79.88 84.34 93.27 102.14 106.83 115.52 124.27 128.91 137.61" y="0" font-size="14.72" transform="translate(2140 862) rotate(-90)" fill="#5a5a5a">2022-06-05 21:47:05</text><text x="0.09 9.03 17.59 26.34 34.99 40.16 48.98 57.49 62.66 71.36 79.88 84.34 93.09 102.02 106.47 115.22 124.14 128.73 137.53" y="0" font-size="14.72" transform="translate(2163 862) rotate(-90)" fill="#5a5a5a">2022-06-05 22:22:59</text><text x="0.09 9.03 17.59 26.34 34.99 40.16 48.98 57.49 62.66 71.36 79.88 84.34 93.09 102.02 106.61 115.53 124.27 128.86 137.7" y="0" font-size="14.72" transform="translate(2186 862) rotate(-90)" fill="#5a5a5a">2022-06-05 22:58:53</text><text x="0.09 9.03 17.59 26.34 34.99 40.16 48.98 57.49 62.66 71.36 79.88 84.34 93.32 102.02 106.7 115.45 124.14 128.83 137.52" y="0" font-size="14.72" transform="translate(2210 862) rotate(-90)" fill="#5a5a5a">2022-06-05 23:34:47</text><text x="0.09 9.03 17.59 26.34 34.99 40.16 48.98 57.49 62.66 71.48 80 84.66 93.41 102.14 106.77 115.66 124.39 129.08 137.78" y="0" font-size="14.72" transform="translate(2233 862) rotate(-90)" fill="#5a5a5a">2022-06-06 00:10:40</text><text x="0.09 9.03 17.59 26.34 34.99 40.16 48.98 57.49 62.66 71.48 80 84.66 93.41 102.14 106.83 115.61 124.39 129.07 137.73" y="0" font-size="14.72" transform="translate(2256 862) rotate(-90)" fill="#5a5a5a">2022-06-06 00:46:35</text><text x="0.09 9.03 17.59 26.34 34.99 40.16 48.98 57.49 62.66 71.48 80 84.66 93.39 102.27 106.72 115.47 124.39 128.84 137.77" y="0" font-size="14.72" transform="translate(2279 862) rotate(-90)" fill="#5a5a5a">2022-06-06 01:22:27</text><text x="0.09 9.03 17.59 26.34 34.99 40.16 48.98 57.49 62.66 71.48 80 84.66 93.39 102.27 106.86 115.78 124.52 129.14 138.03" y="0" font-size="14.72" transform="translate(2302 862) rotate(-90)" fill="#5a5a5a">2022-06-06 01:58:19</text><text x="0.09 9.03 17.59 26.34 34.99 40.16 48.98 57.49 62.66 71.48 80 84.66 93.22 102.14 106.82 115.58 124.27 128.89 137.77" y="0" font-size="14.72" transform="translate(2326 862) rotate(-90)" fill="#5a5a5a">2022-06-06 02:34:11</text><text x="0.09 9.03 17.59 26.34 34.99 40.16 48.98 57.49 62.66 71.48 80 84.66 93.45 102.14 106.77 115.66 124.39 129.03 137.82" y="0" font-size="14.72" transform="translate(2349 862) rotate(-90)" fill="#5a5a5a">2022-06-06 03:10:03</text><text x="0.09 9.03 17.59 26.34 34.99 40.16 48.98 57.49 62.66 71.48 80 84.66 93.45 102.14 106.83 115.48 124.27 128.86 137.61" y="0" font-size="14.72" transform="translate(2372 862) rotate(-90)" fill="#5a5a5a">2022-06-06 03:45:55</text><text x="0.09 9.03 17.59 26.34 34.99 40.16 48.98 57.49 62.66 71.48 80 84.66 93.45 102.14 106.59 115.52 124.39 129.08 137.77" y="0" font-size="14.72" transform="translate(2395 862) rotate(-90)" fill="#5a5a5a">2022-06-06 04:21:47</text><text x="1186.78 1197.19 1202.27 1217.9 1227.95 1237.44 1242.7 1254.14 1270" y="881" font-size="17.5" fill="#4e4e4e">Timestamp</text><text x="38.41 47.02 51.53" y="684" font-size="14.72" fill="#515151">0.0</text><text x="38.41 47.02 51.34" y="596" font-size="14.72" fill="#515151">0.2</text><text x="38.41 47.02 51.58" y="508" font-size="14.72" fill="#515151">0.4</text><text x="38.41 47.02 51.61" y="420" font-size="14.72" fill="#515151">0.6</text><text x="38.41 47.02 51.66" y="332" font-size="14.72" fill="#515151">0.8</text><text x="38.7 47.45 51.97" y="243" font-size="14.72" fill="#515151">1.0</text><text x="38.7 47.45 51.78" y="155" font-size="14.72" fill="#515151">1.2</text><text x="-0.15 11.27 25.29" y="0" font-size="17.5" transform="translate(27.88 435) rotate(-90)" fill="#5f5f5f">VMS</text><text x="70.7 79.55 88.17" y="123" font-size="14.72" fill="#4f4f4f">1e6</text><text x="943.38 955.92 961.74 974.12 986.54 992.05 997.71 1010.24 1022.71 1029 1035.15 1044.74 1056.84 1068.06 1074.26 1085.21 1096.44 1104.42 1111.62 1123.71 1134.09 1144.4 1150.75 1157 1171.36 1184.05 1189.54 1195.02 1207.83 1214.12 1221.1 1233.54 1246.43 1259.35 1271.65 1278 1284.56 1300.24 1313.54 1320.46 1334.19 1341.55 1346.97 1359.46 1372.08 1378.38 1385.35 1398.03 1410.85 1423.72 1436 1443.5 1462.42 1468.08 1480.74 1493.94 1501.24 1513.34" y="30" font-size="21" stroke="#000000" stroke-width="0.06">Pipeline: Test_stress, Build: 3250, Duration: 3600 minutes</text><text x="974.87 987.49 1000.54 1007.96 1018.67 1024.1 1036.58 1049.21 1055.5 1062.35 1074.71 1081.35 1093.71 1100.23 1112.4 1118.75 1124.86 1138.49 1151.12 1162.8 1167.96 1178.67 1184.1 1196.58 1209.21 1215.5 1222.35 1235.1 1247.97 1260.5 1273.4 1285.65 1292 1297.75 1309.09 1321.89 1333.65 1343.71 1356.9 1369.62 1381.62 1389.04 1396.24 1408.88 1420.55 1425.71 1436.42 1441.85 1454.33 1466.96 1473.25 1480" y="53" font-size="21" stroke="#000000" stroke-width="0.06">Version: 4.3.4, Revision: 40316, Package revision: 1</text><text x="1105.94 1123.72 1136.02 1148.86 1161.54 1166.99 1179.09 1189.83 1196.12 1202.09 1214.89 1226.81 1234.17 1239.88 1251.49 1263.63 1271.79 1278.99 1291.09 1302.11 1314.47 1326.96 1339.21 1349.87" y="75" font-size="21" stroke="#000000" stroke-width="0.06">Modules: active-response</text><text x="1040.87 1054.65 1067.4 1080.17 1086.19 1093.55 1098.97 1111.46 1123.21 1136.41 1141.5 1148.3 1153.96 1167.04 1173.6 1186.54 1194.62 1212.71 1226.44 1233.8 1239.22 1251.71 1264.33 1270.62 1276.73 1289.16 1304.25 1316.75 1324.47 1337.35 1350.1 1362.9 1375.41 1388.47 1401.04 1413.79" y="97" font-size="21" stroke="#000000" stroke-width="0.06">Additional information: RC1-03062022</text><text x="2448.79 2458.27 2466.48 2473.82 2482.39 2491.65 2496.36 2504.27 2512.48 2519.62 2523.76 2532.94 2536.81 2540.57 2548.86 2556.26 2565.79 2570.95 2574.69 2583.37" y="243" font-size="14.58" stroke="#000000" stroke-width="0.065">Resources allocation</text><text x="2448.55 2456.52 2465.31 2469.19 2472.75 2477.44 2481.19 2489.26 2498.42" y="264" font-size="14.58" stroke="#000000" stroke-width="0.065">Full load</text><text x="2448.79 2458.27 2466.48 2473.82 2482.39 2491.65 2496.36 2504.27 2512.48 2519.62 2524.77 2529.77 2538.31 2542.15 2550.13 2558.98 2566.4" y="285" font-size="14.58" stroke="#000000" stroke-width="0.065">Resources release</text><text x="2448.84 2459.56 2468.53 2476.06 2484.9 2493.31 2498.15 2505.77 2513.52 2520.66 2528.65 2537.32 2545.53 2553.71 2561.59" y="324" font-size="14.58" stroke="#000000" stroke-width="0.065">wazuh-syscheckd</text><text x="2448.84 2459.56 2468.53 2476.06 2484.9 2493.31 2498.44 2506.9 2514.57 2522.78 2530.72" y="345" font-size="14.58" stroke="#000000" stroke-width="0.065">wazuh-execd</text><text x="2448.84 2459.56 2468.53 2476.06 2484.9 2493.31 2498.91 2511.87 2520.47 2529.31 2538.11 2541.94 2550.15 2557.59" y="366" font-size="14.58" stroke="#000000" stroke-width="0.065">wazuh-modulesd</text><text x="2448.84 2459.56 2468.53 2476.06 2484.9 2493.31 2498.49 2502.24 2510.84 2519.41 2527.24 2535.86 2539.74 2543.57 2551.78 2560.09 2565.12 2574.19" y="387" font-size="14.58" stroke="#000000" stroke-width="0.065">wazuh-logcollector</text><text x="2448.84 2459.56 2468.53 2476.06 2484.9 2493.31 2497.93 2507.17 2515.31 2524.49 2528.52 2536.27 2543.74 2547.27 2554.72" y="408" font-size="14.58" stroke="#000000" stroke-width="0.065">wazuh-analysisd</text><text x="2448.84 2459.56 2468.53 2476.06 2484.9 2493.31 2498.94 2503.94 2512.91 2525.87 2534.84 2539.94 2548.47" y="429" font-size="14.58" stroke="#000000" stroke-width="0.065">wazuh-remoted</text><text x="2448.84 2459.56 2468.53 2476.06 2484.9 2493.31 2497.93 2507.06 2516.21 2521.4 2530.09" y="450" font-size="14.58" stroke="#000000" stroke-width="0.065">wazuh-authd</text><text x="2448.84 2459.56 2468.53 2476.06 2484.9 2493.31 2498.91 2511.43 2520.62 2524.49 2528.34" y="471" font-size="14.58" stroke="#000000" stroke-width="0.065">wazuh-maild</text><text x="2448.84 2459.56 2468.53 2476.06 2484.9 2493.31 2498.49 2502.42 2511.46 2516.57 2525.09 2534.44 2539.18 2548.71 2553.74 2562.82 2567.84" y="492" font-size="14.58" stroke="#000000" stroke-width="0.065">wazuh-integratord</text><text x="2448.84 2459.56 2468.53 2476.06 2484.9 2493.31 2498.47 2507.52" y="513" font-size="14.58" stroke="#000000" stroke-width="0.065">wazuh-db</text><text x="2448.84 2459.56 2468.53 2476.06 2484.9 2493.31 2498.16 2506.11 2509.94 2518.4 2526.21 2531.32 2540.32 2545.34" y="534" font-size="14.58" stroke="#000000" stroke-width="0.065">wazuh-clusterd</text><text x="2448.84 2459.56 2468.53 2476.06 2484.9 2493.31 2498.91 2511.87 2520.54 2529.24 2533.46 2538.49 2547.57 2552.59" y="555" font-size="14.58" stroke="#000000" stroke-width="0.065">wazuh-monitord</text></g></svg>
</body></html>
